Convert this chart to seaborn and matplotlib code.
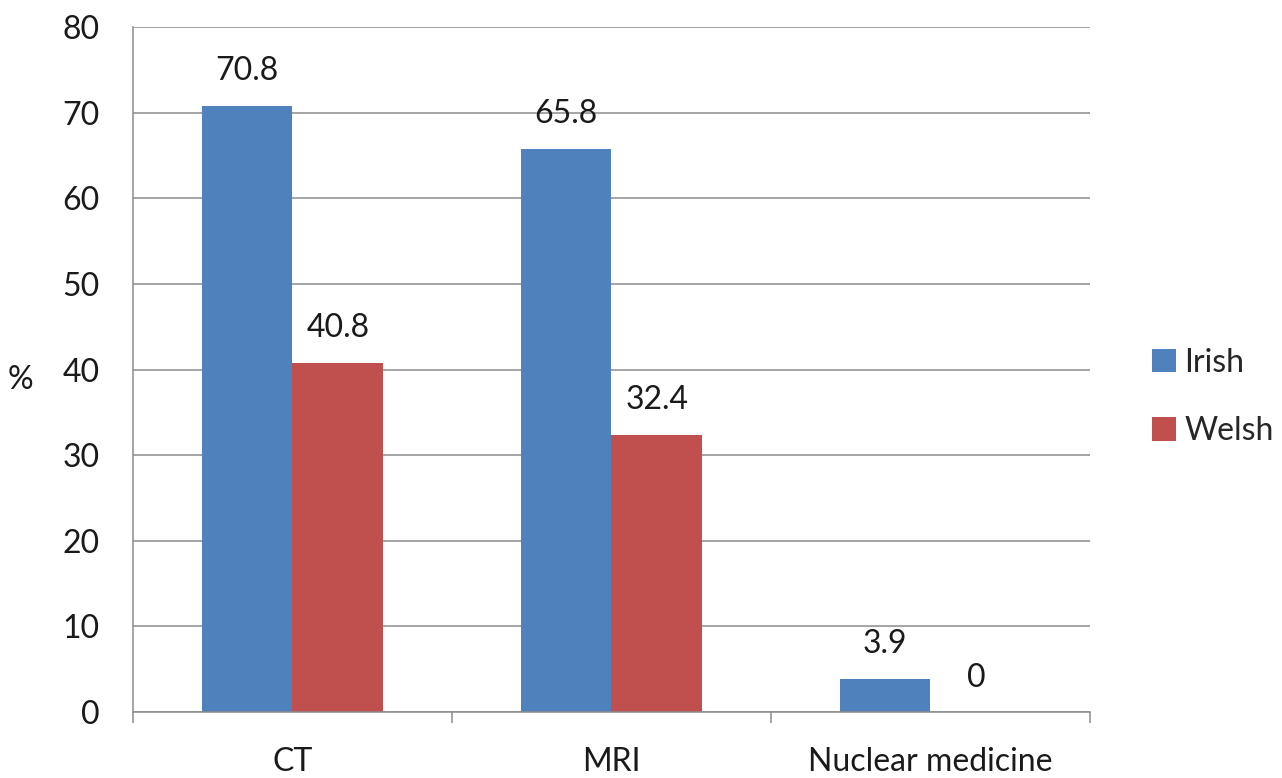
import matplotlib
matplotlib.use("Agg")
import matplotlib.pyplot as plt
import seaborn as sns
import pandas as pd
from matplotlib.ticker import FixedLocator

# Share of departments offering each modality (%)
modalities = ["CT", "MRI", "Nuclear medicine"]
irish = [70.8, 65.8, 3.9]
welsh = [40.8, 32.4, 0.0]
groups = ["Irish", "Welsh"]
colors = ["#4F81BD", "#C0504D"]
yticks = [0, 10, 20, 30, 40, 50, 60, 70, 80]

df = pd.DataFrame({
    "modality": modalities * 2,
    "group": [groups[0]] * len(modalities) + [groups[1]] * len(modalities),
    "value": irish + welsh,
})

sns.set_theme(style="white")
plt.rcParams["font.family"] = ["Lato", "DejaVu Sans"]
FS = 23
TXT = "#1a1a1a"

fig = plt.figure(figsize=(12.82, 7.78), dpi=100)
ax = fig.add_axes([0.1037, 0.0848, 0.7465, 0.8805])

sns.barplot(data=df, x="modality", y="value", hue="group", order=modalities,
            hue_order=groups, palette=colors, width=0.57, gap=0,
            saturation=1, linewidth=0, ax=ax, legend=True)

ax.set_xlim(-0.5, len(modalities) - 0.5)
ax.set_ylim(0, 80)
ax.set_yticks(yticks)
ax.yaxis.grid(True, color="#8C8C8C", linewidth=1.1)
ax.set_axisbelow(True)

for s in ["top", "right"]:
    ax.spines[s].set_visible(False)
for s in ["left", "bottom"]:
    ax.spines[s].set_color("#8C8C8C")
    ax.spines[s].set_linewidth(1.1)

# value labels above the bars
for container in ax.containers:
    ax.bar_label(container, labels=[f"{v.get_height():g}" for v in container],
                 padding=14, fontsize=FS, color=TXT)

ax.tick_params(axis="y", which="major", length=6, width=1.1, color="#8C8C8C",
               labelsize=FS, pad=18, labelcolor=TXT)
# category boundaries get tick marks, category centres get labels
ax.xaxis.set_minor_locator(FixedLocator([i - 0.5 for i in range(len(modalities) + 1)]))
ax.tick_params(axis="x", which="minor", length=8, width=1.1, color="#8C8C8C", bottom=True)
ax.tick_params(axis="x", which="major", length=0, labelsize=FS, pad=25,
               labelcolor=TXT)

ax.set_xlabel("")
ax.set_ylabel("%", rotation=0, fontsize=FS, color=TXT, va="center")
ax.yaxis.set_label_coords(-0.118, 0.485)

handles, labels = ax.get_legend_handles_labels()
ax.legend_.remove()
fig.legend(handles, labels, loc="center left", bbox_to_anchor=(0.889, 0.490),
           frameon=False, fontsize=FS, handlelength=0.75, handleheight=0.75,
           handletextpad=0.25, labelspacing=1.2, borderaxespad=0)

fig.savefig("out.png", dpi=100)
